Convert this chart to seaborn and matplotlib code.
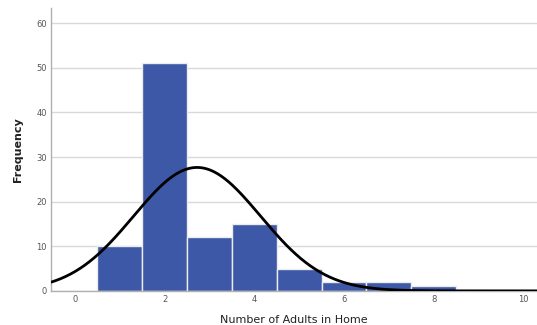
import numpy as np
import pandas as pd
import seaborn as sns
import matplotlib.pyplot as plt

# counts per number of adults
adults = [1, 2, 3, 4, 5, 6, 7, 8]
freq = [10, 51, 12, 15, 5, 2, 2, 1]

df = pd.DataFrame({"adults": adults, "freq": freq})

# normal curve from the data
n = df["freq"].sum()
mean = (df["adults"] * df["freq"]).sum() / n
sd = np.sqrt(((df["adults"] - mean) ** 2 * df["freq"]).sum() / (n - 1))
xs = np.linspace(-0.53, 10.3, 400)
curve = pd.DataFrame({"x": xs, "y": n / (sd * np.sqrt(2 * np.pi)) * np.exp(-0.5 * ((xs - mean) / sd) ** 2)})

sns.set_style("white")
fig = plt.figure(figsize=(5.37, 3.25), dpi=100)
ax = fig.add_axes([0.095, 0.105, 0.905, 0.87])

sns.histplot(data=df, x="adults", weights="freq", discrete=True, color="#3d58a7",
             edgecolor="#ececec", linewidth=1, alpha=1, ax=ax, zorder=2)
sns.lineplot(data=curve, x="x", y="y", color="black", linewidth=2, ax=ax, zorder=3)

ax.set_xlim(-0.53, 10.3)
ax.set_ylim(0, 63.4)
ax.set_xticks([0, 2, 4, 6, 8, 10])
ax.set_yticks([0, 10, 20, 30, 40, 50, 60])
ax.tick_params(labelsize=6, colors="#555555", length=0, pad=3)
ax.yaxis.grid(True, color="#d9d9d9", linewidth=1, zorder=0)
ax.set_axisbelow(True)
for s in ["top", "right"]:
    ax.spines[s].set_visible(False)
for s in ["left", "bottom"]:
    ax.spines[s].set_color("#b0b0b0")
    ax.spines[s].set_linewidth(1)
ax.set_xlabel("Number of Adults in Home", fontsize=8, color="#222222", labelpad=9)
ax.set_ylabel("Frequency", fontsize=8, color="#222222", fontweight="bold", labelpad=14)
ax.xaxis.set_label_coords(0.5, -0.085)
ax.yaxis.set_label_coords(-0.058, 0.5)

fig.savefig("out.png", dpi=100)
